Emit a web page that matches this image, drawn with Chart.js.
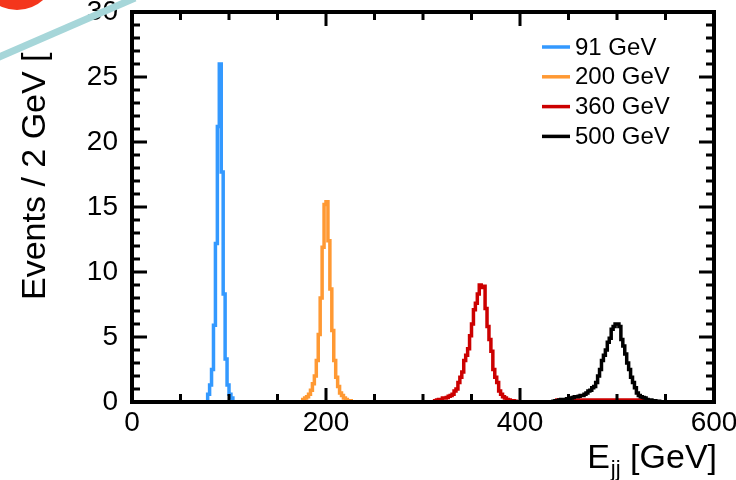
<!DOCTYPE html>
<html>
<head>
<meta charset="utf-8">
<title>E_jj distributions</title>
<script src="https://cdn.jsdelivr.net/npm/chart.js@4.4.1/dist/chart.umd.min.js"></script>
<style>
  html, body { margin: 0; padding: 0; background: #fff; }
  #wrap { width: 736px; height: 480px; position: relative; }
</style>
</head>
<body>
<div id="wrap"><canvas id="c" width="736" height="480"></canvas></div>
<script>
// ── Histogram data (2 GeV bins) ──
var binWidth = 2;
var seriesLabels = ['91 GeV', '200 GeV', '360 GeV', '500 GeV'];
var seriesColors = ['#3399ff', '#ff9933', '#cc0000', '#000000'];

var start91 = 78;
var counts91 = [0.2, 0.6, 1.3, 2.5, 5.9, 12.2, 21.2, 26.0, 17.7, 8.3, 3.3, 1.3, 0.6, 0.3];

var start200 = 176;
var counts200 = [0.1, 0.2, 0.3, 0.4, 0.6, 0.9, 1.4, 2.0, 3.2, 5.2, 8.0, 11.9, 15.2,
                 15.4, 12.4, 8.7, 5.5, 3.2, 1.9, 1.2, 0.7, 0.5, 0.3, 0.2, 0.1, 0.1];

var start360 = 312;
var counts360 = [0.1, 0.1, 0.15, 0.2, 0.2, 0.3, 0.3, 0.35, 0.45, 0.5, 0.6, 0.85, 1.0,
                 1.5, 1.9, 2.3, 3.2, 3.6, 4.1, 5.1, 6.0, 7.1, 7.6, 8.3, 9.0, 8.8, 8.9,
                 7.2, 5.8, 4.8, 3.9, 2.5, 1.9, 1.5, 0.85, 0.6, 0.4, 0.3, 0.2, 0.15,
                 0.1, 0.1, 0.05];
var tailStart360 = 438;
var tail360 = [0.15, 0.15, 0.15, 0.15, 0.15, 0.15, 0.15, 0.15, 0.15, 0.15, 0.15, 0.15,
               0.15, 0.15, 0.15, 0.15, 0.15, 0.15, 0.15, 0.15, 0.15, 0.15, 0.15, 0.15,
               0.15, 0.15, 0.15, 0.15, 0.15, 0.15, 0.15, 0.15, 0.15, 0.15, 0.15, 0.15,
               0.15, 0.15, 0.15, 0.15, 0.15, 0.15, 0.15, 0.15, 0.15, 0.15, 0.15, 0.15];

var start500 = 434;
var counts500 = [0.05, 0.05, 0.1, 0.1, 0.15, 0.2, 0.2, 0.2, 0.25, 0.25, 0.3, 0.35, 0.4,
                 0.4, 0.45, 0.5, 0.5, 0.6, 0.7, 0.85, 0.9, 1.1, 1.2, 1.5, 2.0, 2.5,
                 3.2, 3.6, 4.0, 4.6, 4.9, 5.6, 5.8, 6.0, 6.0, 5.8, 4.8, 4.3, 3.7, 3.0,
                 2.5, 1.9, 1.5, 1.1, 0.7, 0.5, 0.4, 0.35, 0.3, 0.2, 0.15, 0.15, 0.1,
                 0.1, 0.05, 0.05];

// ── Axes ──
var xMajor = [0, 200, 400, 600];
var xTickLabels = ['0', '200', '400', '600'];
var xMinorStep = 50;
var yMajor = [0, 5, 10, 15, 20, 25, 30];
var yTickLabels = ['0', '5', '10', '15', '20', '25', '30'];
var yMinorStep = 1;
var xTitleMain = 'E', xTitleSub = 'jj', xTitleUnit = ' [GeV]';
var yTitle = 'Events / 2 GeV [';

var FONT = "'Liberation Sans', Arial, Helvetica, sans-serif";

// turn bin lists into step points (low edges, closed at both ends)
function histPoints(segments) {
  var pts = [];
  segments.forEach(function (seg) {
    var s = seg[0], vals = seg[1];
    pts.push({ x: s, y: 0 });
    for (var i = 0; i < vals.length; i++) pts.push({ x: s + i * binWidth, y: vals[i] });
    pts.push({ x: s + vals.length * binWidth, y: 0 });
  });
  return pts;
}

function histDataset(i, segments) {
  return {
    label: seriesLabels[i],
    data: histPoints(segments),
    borderColor: seriesColors[i],
    backgroundColor: seriesColors[i],
    borderWidth: 3.5,
    stepped: 'after',
    tension: 0,
    fill: false,
    pointRadius: 0,
    borderJoinStyle: 'miter',
    order: 3 - i
  };
}

// ── ROOT-style frame with inward ticks on all four sides ──
var rootFrame = {
  id: 'rootFrame',
  afterDatasetsDraw: function (chart) {
    var ctx = chart.ctx, a = chart.chartArea;
    var xs = chart.scales.x, ys = chart.scales.y;
    var v, p, len;
    ctx.save();
    ctx.strokeStyle = '#000';
    ctx.lineWidth = 3;
    ctx.beginPath();
    for (v = xs.min; v <= xs.max + 1e-6; v += xMinorStep) {
      p = xs.getPixelForValue(v);
      len = xMajor.indexOf(v) >= 0 ? 14 : 8;
      ctx.moveTo(p, a.bottom); ctx.lineTo(p, a.bottom - len);
      ctx.moveTo(p, a.top); ctx.lineTo(p, a.top + len);
    }
    for (v = ys.min; v <= ys.max + 1e-6; v += yMinorStep) {
      p = ys.getPixelForValue(v);
      len = yMajor.indexOf(v) >= 0 ? 15 : 8;
      ctx.moveTo(a.left, p); ctx.lineTo(a.left + len, p);
      ctx.moveTo(a.right, p); ctx.lineTo(a.right - len, p);
    }
    ctx.stroke();
    ctx.lineWidth = 4;
    ctx.strokeRect(a.left, a.top, a.right - a.left, a.bottom - a.top);
    ctx.restore();
  }
};

// ── Legend, axis titles, and the overlay marks on the picture ──
var rootDecor = {
  id: 'rootDecor',
  afterDraw: function (chart, args, opts) {
    var ctx = chart.ctx;
    ctx.save();
    ctx.fillStyle = '#000';

    // legend
    var lg = opts.legend;
    ctx.font = lg.size + 'px ' + FONT;
    ctx.textBaseline = 'middle';
    ctx.textAlign = 'left';
    chart.data.datasets.forEach(function (ds, i) {
      var y = lg.y + i * lg.rowH;
      ctx.strokeStyle = ds.borderColor;
      ctx.lineWidth = 3.5;
      ctx.beginPath();
      ctx.moveTo(lg.x, y); ctx.lineTo(lg.x + lg.lineLen, y);
      ctx.stroke();
      ctx.fillStyle = '#000';
      ctx.fillText(ds.label, lg.x + lg.lineLen + lg.gap, y + 1);
    });

    // y title (rotated, starts near the bottom, runs off the top)
    ctx.save();
    ctx.translate(opts.yTitle.x, opts.yTitle.y);
    ctx.rotate(-Math.PI / 2);
    ctx.font = opts.yTitle.size + 'px ' + FONT;
    ctx.textAlign = 'left';
    ctx.textBaseline = 'alphabetic';
    ctx.fillText(yTitle, 0, 0);
    ctx.restore();

    // x title with subscript, right aligned
    var xt = opts.xTitle;
    ctx.textBaseline = 'alphabetic';
    ctx.textAlign = 'left';
    ctx.font = xt.size + 'px ' + FONT;
    var wMain = ctx.measureText(xTitleMain).width;
    var wUnit = ctx.measureText(xTitleUnit).width;
    ctx.font = xt.subSize + 'px ' + FONT;
    var wSub = ctx.measureText(xTitleSub).width;
    var x0 = xt.right - (wMain + wSub + wUnit);
    ctx.font = xt.size + 'px ' + FONT;
    ctx.fillText(xTitleMain, x0, xt.y);
    ctx.font = xt.subSize + 'px ' + FONT;
    ctx.fillText(xTitleSub, x0 + wMain + 1, xt.y + xt.subDrop);
    ctx.font = xt.size + 'px ' + FONT;
    ctx.fillText(xTitleUnit, x0 + wMain + wSub + 1, xt.y);

    // red disc in the corner and light teal stroke
    ctx.fillStyle = '#f4361c';
    ctx.beginPath();
    ctx.arc(17, -29, 39, 0, Math.PI * 2);
    ctx.fill();
    ctx.strokeStyle = '#a6d6d9';
    ctx.lineWidth = 7;
    ctx.lineCap = 'butt';
    ctx.beginPath();
    ctx.moveTo(-10, 61);
    ctx.lineTo(135, -2);
    ctx.stroke();

    ctx.restore();
  }
};

Chart.defaults.font.family = FONT;
Chart.defaults.color = '#000';

new Chart(document.getElementById('c').getContext('2d'), {
  type: 'line',
  data: {
    datasets: [
      histDataset(0, [[start91, counts91]]),
      histDataset(1, [[start200, counts200]]),
      histDataset(2, [[start360, counts360], [tailStart360, tail360]]),
      histDataset(3, [[start500, counts500]])
    ]
  },
  options: {
    responsive: false,
    devicePixelRatio: 1,
    animation: false,
    layout: { padding: { left: 0, right: 22, top: 12, bottom: 0 } },
    plugins: {
      legend: { display: false },
      tooltip: { enabled: false },
      rootDecor: {
        legend: { x: 542, y: 47, rowH: 29.8, lineLen: 28, gap: 5, size: 24 },
        yTitle: { x: 45, y: 300, size: 34 },
        xTitle: { right: 716, y: 468, size: 34, subSize: 22, subDrop: 8 }
      }
    },
    scales: {
      x: {
        type: 'linear',
        min: 0,
        max: 600,
        grid: { display: false, drawTicks: false },
        border: { display: false },
        ticks: {
          color: '#000',
          font: { size: 28 },
          padding: 4,
          maxRotation: 0,
          autoSkip: false,
          callback: function (v) { return xTickLabels[xMajor.indexOf(v)]; }
        },
        afterBuildTicks: function (s) { s.ticks = xMajor.map(function (v) { return { value: v }; }); },
        afterFit: function (s) { s.height = 78; s.paddingLeft = 0; s.paddingRight = 0; }
      },
      y: {
        min: 0,
        max: 30,
        grid: { display: false, drawTicks: false },
        border: { display: false },
        ticks: {
          color: '#000',
          font: { size: 28 },
          padding: 14,
          autoSkip: false,
          callback: function (v) { return yTickLabels[yMajor.indexOf(v)]; }
        },
        afterBuildTicks: function (s) { s.ticks = yMajor.map(function (v) { return { value: v }; }); },
        afterFit: function (s) { s.width = 132; s.paddingTop = 0; s.paddingBottom = 0; }
      }
    }
  },
  plugins: [rootFrame, rootDecor]
});
</script>
</body>
</html>
